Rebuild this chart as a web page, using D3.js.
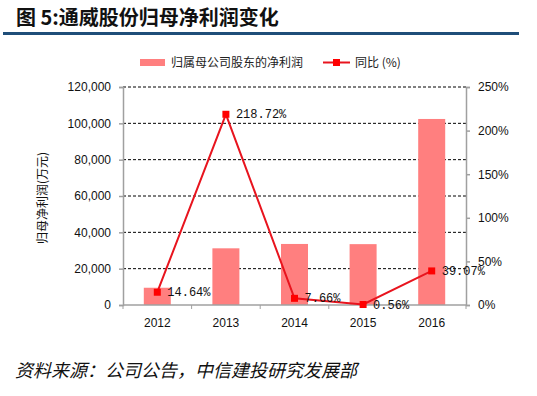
<!DOCTYPE html>
<html><head><meta charset="utf-8">
<script src="https://cdn.jsdelivr.net/npm/d3@7"></script>
<style>body{margin:0;background:#fff}svg{display:block}</style>
</head><body>
<svg id="c" width="537" height="396"></svg>
<script>
const years = ["2012","2013","2014","2015","2016"];
const profit = [9500, 31200, 33600, 33500, 102400];
const yoy = [14.64, 218.72, 7.66, 0.56, 39.07];
const yoyLabels = ["14.64%","218.72%","7.66%","0.56%","39.07%"];
const leftTicks = [0,20000,40000,60000,80000,100000,120000];
const rightTicks = [0,50,100,150,200,250];

const svg = d3.select("#c");
const L = 123, R = 466, T = 87, B = 305;
const x = d3.scaleBand().domain(years).range([L, R]);
const yL = d3.scaleLinear().domain([0,120000]).range([B, T]);
const yR = d3.scaleLinear().domain([0,250]).range([B, T]);
const sans = "Arial, 'Liberation Sans', sans-serif";
const cjk = "'Noto Sans CJK SC', sans-serif";

// title
svg.append("text").attr("x",16).attr("y",25).attr("font-family",cjk).attr("font-weight","bold")
  .attr("font-size",20).attr("fill","#111").text("图 5:通威股份归母净利润变化");
svg.append("rect").attr("x",3).attr("y",32).attr("width",516).attr("height",3).attr("fill","#1F4E79");

// gridlines
svg.append("g").selectAll("line").data(leftTicks.slice(1)).join("line")
  .attr("x1",L).attr("x2",R).attr("y1",d=>yL(d)).attr("y2",d=>yL(d))
  .attr("stroke","#000").attr("stroke-width",1).attr("stroke-dasharray","3,2");

// bars
const bw = 27;
svg.append("g").selectAll("rect").data(years).join("rect")
  .attr("x",(d)=>x(d)+x.bandwidth()/2-bw/2).attr("width",bw)
  .attr("y",(d,i)=>yL(profit[i])).attr("height",(d,i)=>B-yL(profit[i]))
  .attr("fill","#FF7F7F");

// axes
const axL = svg.append("g").attr("transform",`translate(${L},0)`)
  .call(d3.axisLeft(yL).tickValues(leftTicks).tickFormat(d3.format(",")).tickSize(4).tickPadding(8));
const axR = svg.append("g").attr("transform",`translate(${R},0)`)
  .call(d3.axisRight(yR).tickValues(rightTicks).tickFormat(d=>d+"%").tickSize(4).tickPadding(8));
const axB = svg.append("g").attr("transform",`translate(0,${B})`)
  .call(d3.axisBottom(x).tickSize(0).tickPadding(13));
// category boundary ticks
svg.append("g").selectAll("line").data(d3.range(6)).join("line")
  .attr("x1",i=>L+i*x.step()).attr("x2",i=>L+i*x.step()).attr("y1",B).attr("y2",B+4)
  .attr("stroke","#A0A0A0");
[axL,axR,axB].forEach(a=>{
  a.selectAll("path,line").attr("stroke","#A0A0A0").attr("stroke-width",1.5);
  a.selectAll("text").attr("font-family",sans).attr("font-size",12).attr("fill","#111");
});
axB.select(".domain").attr("d",`M${L},0H${R}`);

// y axis title
svg.append("text").attr("transform","translate(47,198) rotate(-90)").attr("text-anchor","middle")
  .attr("font-family",cjk).attr("font-size",12).attr("fill","#111").text("归母净利润(万元)");

// line
const cx = d=>x(d)+x.bandwidth()/2;
svg.append("path").datum(years).attr("fill","none").attr("stroke","#E8141E").attr("stroke-width",2)
  .attr("d",d3.line().x(cx).y((d,i)=>yR(yoy[i])));
svg.append("g").selectAll("rect").data(years).join("rect")
  .attr("x",d=>cx(d)-3.5).attr("y",(d,i)=>yR(yoy[i])-3.5).attr("width",7).attr("height",7).attr("fill","#FF0000");
svg.append("g").selectAll("text").data(years).join("text")
  .attr("x",d=>cx(d)+10).attr("y",(d,i)=>yR(yoy[i])+4)
  .attr("font-family","'Liberation Mono','DejaVu Sans Mono',monospace").attr("font-size",12).attr("fill","#111")
  .text((d,i)=>yoyLabels[i]);

// legend
svg.append("rect").attr("x",140).attr("y",59).attr("width",25).attr("height",7).attr("fill","#FF7F7F");
svg.append("text").attr("x",171).attr("y",67).attr("font-family",cjk).attr("font-size",12).attr("fill","#222").text("归属母公司股东的净利润");
svg.append("line").attr("x1",323).attr("x2",350).attr("y1",62.5).attr("y2",62.5).attr("stroke","#E8141E").attr("stroke-width",2);
svg.append("rect").attr("x",333).attr("y",59).attr("width",7).attr("height",7).attr("fill","#FF0000");
svg.append("text").attr("x",355).attr("y",67).attr("font-family",cjk).attr("font-size",12).attr("fill","#222").text("同比 (%)");

// footer
svg.append("text").attr("x",15).attr("y",377).attr("font-family",cjk).attr("font-style","italic")
  .attr("font-size",18).attr("fill","#111").text("资料来源：公司公告，中信建投研究发展部");
</script>
</body></html>
